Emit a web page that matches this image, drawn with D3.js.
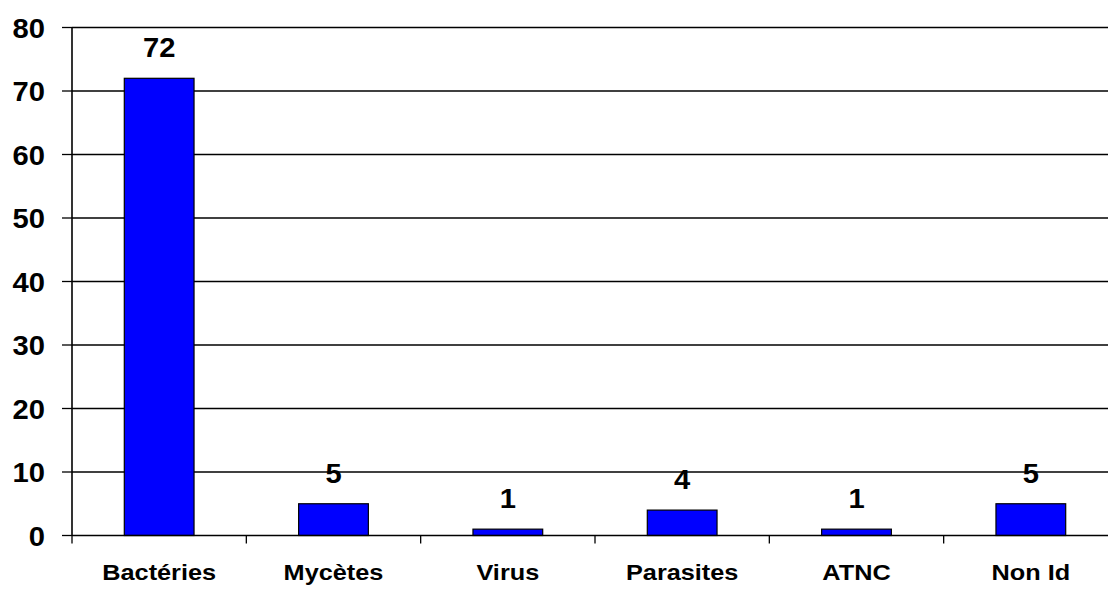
<!DOCTYPE html>
<html>
<head>
<meta charset="utf-8">
<script src="https://cdn.jsdelivr.net/npm/d3@7"></script>
<style>
  body { margin: 0; background: #fff; }
  text { font-family: "Liberation Sans", Arial, sans-serif; font-weight: bold; fill: #000; }
</style>
</head>
<body>
<div id="chart"></div>
<script>
// chart data
const categories = ["Bactéries", "Mycètes", "Virus", "Parasites", "ATNC", "Non Id"];
const values = [72, 5, 1, 4, 1, 5];
const yTicks = [0, 10, 20, 30, 40, 50, 60, 70, 80];

const WIDTH = 1108;
const HEIGHT = 589;
const MARGIN = { left: 72, right: -10, top: 27.5, bottom: 53.5 };

const svg = d3.select("#chart").append("svg")
    .attr("width", WIDTH)
    .attr("height", HEIGHT);

const x = d3.scaleBand()
    .domain(categories)
    .range([MARGIN.left, WIDTH - MARGIN.right])
    .paddingInner(0.6)
    .paddingOuter(0.3);

// band step boundaries for category ticks
const step = x.step();
const x0 = MARGIN.left;

const y = d3.scaleLinear()
    .domain([0, 80])
    .range([HEIGHT - MARGIN.bottom, MARGIN.top]);

// gridlines
svg.append("g")
    .selectAll("line")
    .data(yTicks.filter(d => d > 0))
    .enter()
    .append("line")
    .attr("x1", MARGIN.left)
    .attr("x2", WIDTH)
    .attr("y1", d => y(d))
    .attr("y2", d => y(d))
    .attr("stroke", "#000")
    .attr("stroke-width", 1.3);

// bars
svg.append("g")
    .selectAll("rect")
    .data(values)
    .enter()
    .append("rect")
    .attr("x", (d, i) => x(categories[i]))
    .attr("width", x.bandwidth())
    .attr("y", d => y(d))
    .attr("height", d => y(0) - y(d))
    .attr("fill", "#0000FF")
    .attr("stroke", "#000")
    .attr("stroke-width", 1.2);

// value labels
svg.append("g")
    .selectAll("text")
    .data(values)
    .enter()
    .append("text")
    .attr("text-anchor", "middle")
    .attr("font-size", "27px")
    .attr("transform", (d, i) => `translate(${x(categories[i]) + x.bandwidth() / 2}, ${y(d) - 21}) scale(1.08,1)`)
    .text(d => d);

// y axis
const yAxis = svg.append("g")
    .attr("transform", `translate(${MARGIN.left}, 0)`);

yAxis.append("line")
    .attr("x1", 0).attr("x2", 0)
    .attr("y1", y(80)).attr("y2", y(0))
    .attr("stroke", "#000")
    .attr("stroke-width", 1.6);

yAxis.selectAll(".tick")
    .data(yTicks)
    .enter()
    .append("line")
    .attr("x1", -10).attr("x2", 0)
    .attr("y1", d => y(d)).attr("y2", d => y(d))
    .attr("stroke", "#000")
    .attr("stroke-width", 1.3);

yAxis.selectAll(".tickLabel")
    .data(yTicks)
    .enter()
    .append("text")
    .attr("text-anchor", "end")
    .attr("font-size", "27px")
    .attr("transform", d => `translate(-27, ${y(d) + 10}) scale(1.08,1)`)
    .text(d => d);

// x axis
const xAxis = svg.append("g");

xAxis.append("line")
    .attr("x1", MARGIN.left).attr("x2", WIDTH)
    .attr("y1", y(0)).attr("y2", y(0))
    .attr("stroke", "#000")
    .attr("stroke-width", 1.6);

xAxis.selectAll(".catTick")
    .data(d3.range(categories.length + 1))
    .enter()
    .append("line")
    .attr("x1", i => x0 + i * step)
    .attr("x2", i => x0 + i * step)
    .attr("y1", y(0))
    .attr("y2", y(0) + 8)
    .attr("stroke", "#000")
    .attr("stroke-width", 1.3);

xAxis.selectAll(".catLabel")
    .data(categories)
    .enter()
    .append("text")
    .attr("text-anchor", "middle")
    .attr("font-size", "22px")
    .attr("transform", d => `translate(${x(d) + x.bandwidth() / 2}, 580) scale(1.15,1)`)
    .text(d => d);
</script>
</body>
</html>
